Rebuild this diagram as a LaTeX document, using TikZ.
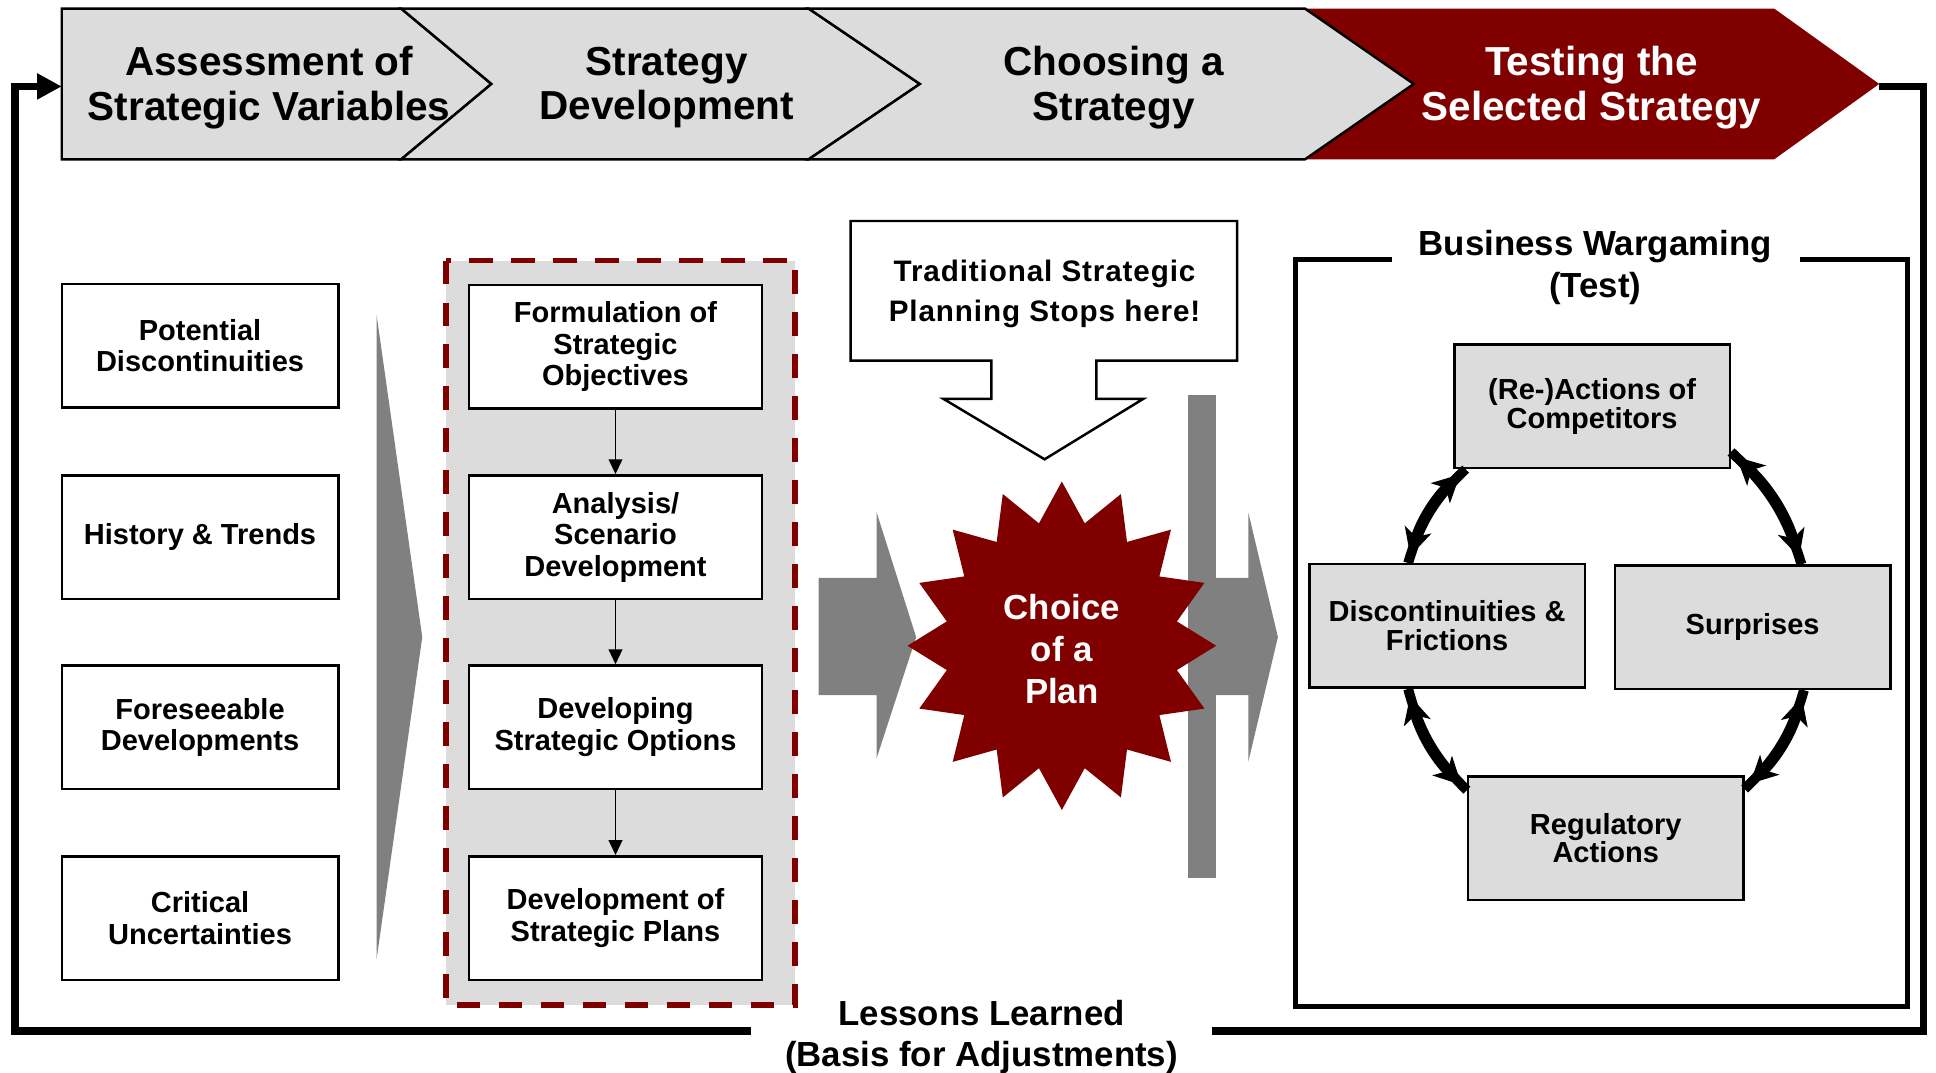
\documentclass[tikz,border=0pt]{standalone}
\usepackage{fontspec}
\setmainfont{Liberation Sans}
\usetikzlibrary{arrows.meta,calc}
\definecolor{plandark}{HTML}{800000}
\definecolor{panelgray}{HTML}{DCDCDC}
\definecolor{arrowgray}{HTML}{808080}
\begin{document}
\begin{tikzpicture}[x=1pt,y=-1pt,
  phase/.style={draw=black, line width=2pt, fill=panelgray, line join=miter},
  phasetext/.style={align=center, inner sep=0pt, font=\bfseries\fontsize{32.8}{36}\selectfont},
  inputbox/.style={draw=black, line width=2pt, fill=white, minimum width=224pt, minimum height=100pt,
    align=center, inner sep=0pt, font=\bfseries\fontsize{23.5}{25.5}\selectfont},
  stepbox/.style={inputbox, minimum width=237pt},
  gamebox/.style={inputbox, fill=panelgray, minimum width=223pt},
  flow/.style={line width=1.5pt, -{Triangle[length=12pt,width=11pt]}},
  gameshaft/.style={line width=8pt},
  gamehead/.style={line width=8pt, shorten <=6pt, shorten >=6pt,
    {Stealth[length=22pt,width=22pt,inset=6pt]}-{Stealth[length=22pt,width=22pt,inset=6pt]}},
  loopline/.style={line width=6pt, line join=miter},
  bigtext/.style={align=center, inner sep=0pt, font=\bfseries\fontsize{28.2}{34}\selectfont}]

\useasboundingbox (0,0) rectangle (1568,869);

% ---- phase banner ----
\fill[plandark] (1057,7) -- (1437,7) -- (1522,68) -- (1437,129) -- (1057,129) -- (1145,68) -- cycle;
\draw[phase] (50,7) -- (325,7) -- (398,68) -- (325,129) -- (50,129) -- cycle;
\draw[phase] (325,7) -- (655,7) -- (745,68) -- (655,129) -- (325,129) -- (398,68) -- cycle;
\draw[phase] (655,7) -- (1057,7) -- (1145,68) -- (1057,129) -- (655,129) -- (745,68) -- cycle;
\node[phasetext] (ph1) at (218,71) {Assessment of\\Strategic Variables};
\node[phasetext] (ph2) at (540,71) {Strategy\\Development};
\node[phasetext] (ph3) at (902,71) {Choosing a\\Strategy};
\node[phasetext, text=white] (ph4) at (1289,71) {Testing the\\Selected Strategy};
\coordinate (tipR) at (1522,70);
\coordinate (inL) at (50,70);

% ---- feedback loop ----
\coordinate (cR1) at (1558,70);
\coordinate (cR2) at (1558,835);
\coordinate (gapR) at (982,835);
\coordinate (gapL) at (608,835);
\coordinate (cL1) at (12,835);
\coordinate (cL2) at (12,70);
\draw[loopline] (tipR) -- (cR1) -- (cR2) -- (gapR);
\draw[loopline, -{Triangle[length=20pt,width=20pt]}] (gapL) -- (cL1) -- (cL2) -- (inL);
\node[bigtext, font=\bfseries\fontsize{28.2}{33}\selectfont] (lessons) at (795,840)
  {Lessons Learned\\(Basis for Adjustments)};

% ---- strategic variables ----
\node[inputbox] (v1) at (162,280) {Potential\\Discontinuities};
\node[inputbox] (v2) at (162,435) {History \& Trends};
\node[inputbox] (v3) at (162,589) {Foreseeable\\Developments};
\node[inputbox] (v4) at (162,743.5) {Critical\\Uncertainties};
\fill[arrowgray] (305,255) -- (342,516) -- (305,777) -- cycle;

% ---- strategy development panel ----
\draw[plandark, fill=panelgray, line width=4.5pt, dash pattern=on 19pt off 15pt] (361,211) rectangle (644,814);
\node[stepbox] (s1) at (498.5,281) {Formulation of\\Strategic\\Objectives};
\node[stepbox] (s2) at (498.5,435) {Analysis/\\Scenario\\Development};
\node[stepbox] (s3) at (498.5,589) {Developing\\Strategic Options};
\node[stepbox] (s4) at (498.5,743.5) {Development of\\Strategic Plans};
\draw[flow] (s1) -- (s2);
\draw[flow] (s2) -- (s3);
\draw[flow] (s3) -- (s4);

% ---- choice of a plan ----
\fill[arrowgray] (663,468) -- (710,468) -- (710,415) -- (742,516) -- (710,614) -- (710,563) -- (663,563) -- cycle;
\fill[arrowgray] (962,320) rectangle (985,711);
\fill[arrowgray] (975,468) -- (1011,468) -- (1011,415) -- (1035,516) -- (1011,617) -- (1011,563) -- (975,563) -- cycle;
\fill[plandark] plot[samples at={0,...,31}, variable=\k]
  ({860+125*(1-0.24*isodd(\k))*sin(\k*11.25)}, {523-133*(1-0.24*isodd(\k))*cos(\k*11.25)}) -- cycle;
\node[bigtext, text=white] (plan) at (860,526) {Choice\\of a\\Plan};

% callout
\draw[line width=2pt, fill=white, line join=miter] (689,179) -- (1002,179) -- (1002,292) -- (888,292) -- (888,323)
  -- (926,323) -- (846,372) -- (764,323) -- (803,323) -- (803,292) -- (689,292) -- cycle;
\node[align=center, inner sep=0pt, font=\bfseries\fontsize{24}{32}\selectfont\addfontfeatures{LetterSpace=3}] (stop) at (846,238)
  {Traditional Strategic\\Planning Stops here!};

% ---- business wargaming ----
\draw[line width=4pt, line join=miter] (1127,210) -- (1049,210) -- (1049,815) -- (1545,815) -- (1545,210) -- (1458,210);
\node[bigtext] (bw) at (1292,217) {Business Wargaming\\(Test)};
\node[gamebox, font=\bfseries\fontsize{23.5}{23.5}\selectfont] (comp) at (1289.5,329) {(Re-)Actions of\\Competitors};
\node[gamebox, font=\bfseries\fontsize{23.5}{23.5}\selectfont] (disc) at (1172,507) {Discontinuities \&\\Frictions};
\node[gamebox] (surp) at (1419.5,508) {Surprises};
\node[gamebox, font=\bfseries\fontsize{23.5}{23}\selectfont] (reg) at (1300.5,679) {Regulatory\\Actions};
\foreach \sty in {gameshaft, gamehead} {
  \draw[\sty] ([xshift=10pt]comp.south west) to[bend right=15] ([xshift=81pt]disc.north west);
  \draw[\sty] ([yshift=14pt]comp.south east) to[bend left=15] ([xshift=152pt]surp.north west);
  \draw[\sty] ([xshift=81pt]disc.south west) to[bend right=15] ([yshift=-12pt]reg.north west);
  \draw[\sty] ([xshift=154pt]surp.south west) to[bend left=15] ([yshift=-11pt]reg.north east);
}
\end{tikzpicture}
\end{document}
